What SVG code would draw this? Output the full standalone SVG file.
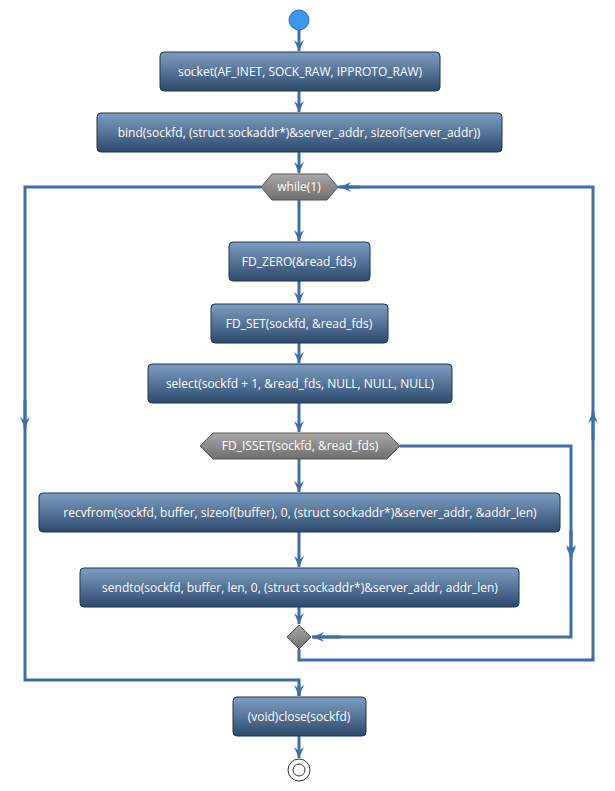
<svg xmlns="http://www.w3.org/2000/svg" width="615" height="791" viewBox="0 0 615 791">
<defs>
<linearGradient id="g" x1="0" y1="0" x2="0" y2="1"><stop offset="0" stop-color="#7d9ec2"/><stop offset="1" stop-color="#2c4a6e"/></linearGradient>
<linearGradient id="gg" x1="0" y1="0" x2="0" y2="1"><stop offset="0" stop-color="#a8a8a8"/><stop offset="1" stop-color="#6e6e6e"/></linearGradient>
<marker id="a" viewBox="0 0 12 12" refX="11" refY="6" markerWidth="12" markerHeight="12" markerUnits="userSpaceOnUse" orient="auto"><path d="M0,1 L11,6 L0,11 L4,6 Z" fill="#3e6ea5"/></marker>
</defs>
<style>
.b{fill:url(#g);stroke:#1f3550;stroke-width:1}
.h{fill:url(#gg);stroke:#555;stroke-width:1}
text{font-family:"Open Sans","Noto Sans",sans-serif;font-size:12px;fill:#fff;text-anchor:middle}
.c path,.c line,.c polyline{stroke:#3e6ea5;stroke-width:3;fill:none}
</style>
<g class="c" id="connectors">
<line x1="299" y1="30" x2="299" y2="51" marker-end="url(#a)"/>
<line x1="299" y1="91" x2="299" y2="112" marker-end="url(#a)"/>
<line x1="299" y1="152" x2="299" y2="173" marker-end="url(#a)"/>
<line x1="299" y1="200" x2="299" y2="241" marker-end="url(#a)"/>
<line x1="299" y1="281" x2="299" y2="303" marker-end="url(#a)"/>
<line x1="299" y1="343" x2="299" y2="363" marker-end="url(#a)"/>
<line x1="299" y1="403" x2="299" y2="432" marker-end="url(#a)"/>
<line x1="299" y1="459" x2="299" y2="492" marker-end="url(#a)"/>
<line x1="299" y1="532" x2="299" y2="567" marker-end="url(#a)"/>
<line x1="299" y1="607" x2="299" y2="624" marker-end="url(#a)"/>
<polyline points="400,446 571,446 571,637 312,637" />
<line x1="571" y1="530" x2="571" y2="556" marker-end="url(#a)" style="stroke-width:0"/>
<path d="M571,530 L571,558" marker-end="url(#a)"/>
<path d="M340,637 L313,637" marker-end="url(#a)"/>
<polyline points="299,649 299,660 593,660 593,187 338,187"/>
<path d="M593,440 L593,412" marker-end="url(#a)"/>
<path d="M360,187 L340,187" marker-end="url(#a)"/>
<polyline points="261,187 25,187 25,680 299,680 299,696" />
<path d="M25,400 L25,428" marker-end="url(#a)"/>
<path d="M299,685 L299,696" marker-end="url(#a)"/>
<line x1="299" y1="736" x2="299" y2="758" marker-end="url(#a)"/>
</g>
<g id="start"><circle cx="299" cy="20" r="10" fill="#3b97f0" stroke="#2a6fb5"/></g>
<g id="n1"><rect class="b" x="160" y="52" width="280" height="39" rx="4"/><text x="300" y="76">socket(AF_INET, SOCK_RAW, IPPROTO_RAW)</text></g>
<g id="n2"><rect class="b" x="97" y="113" width="405" height="39" rx="4"/><text x="299" y="137">bind(sockfd, (struct sockaddr*)&amp;server_addr, sizeof(server_addr))</text></g>
<g id="loop"><polygon class="h" points="261,187 272,174 327,174 338,187 327,200 272,200"/><text x="299" y="191">while(1)</text></g>
<g id="n3"><rect class="b" x="229" y="242" width="141" height="39" rx="4"/><text x="299" y="266">FD_ZERO(&amp;read_fds)</text></g>
<g id="n4"><rect class="b" x="211" y="304" width="177" height="39" rx="4"/><text x="299" y="328">FD_SET(sockfd, &amp;read_fds)</text></g>
<g id="n5"><rect class="b" x="148" y="364" width="304" height="39" rx="4"/><text x="300" y="388">select(sockfd + 1, &amp;read_fds, NULL, NULL, NULL)</text></g>
<g id="if"><polygon class="h" points="200,446 213,433 387,433 400,446 387,459 213,459"/><text x="300" y="450">FD_ISSET(sockfd, &amp;read_fds)</text></g>
<g id="n6"><rect class="b" x="39" y="493" width="521" height="39" rx="4"/><text x="300" y="517">recvfrom(sockfd, buffer, sizeof(buffer), 0, (struct sockaddr*)&amp;server_addr, &amp;addr_len)</text></g>
<g id="n7"><rect class="b" x="80" y="568" width="439" height="39" rx="4"/><text x="300" y="592">sendto(sockfd, buffer, len, 0, (struct sockaddr*)&amp;server_addr, addr_len)</text></g>
<g id="merge"><polygon class="h" points="299,625 311,637 299,649 287,637"/></g>
<g id="n8"><rect class="b" x="233" y="697" width="133" height="39" rx="4"/><text x="299" y="721">(void)close(sockfd)</text></g>
<g id="end"><circle cx="299" cy="770" r="11" fill="none" stroke="#333"/><circle cx="299" cy="770" r="6" fill="none" stroke="#333"/></g>
</svg>
